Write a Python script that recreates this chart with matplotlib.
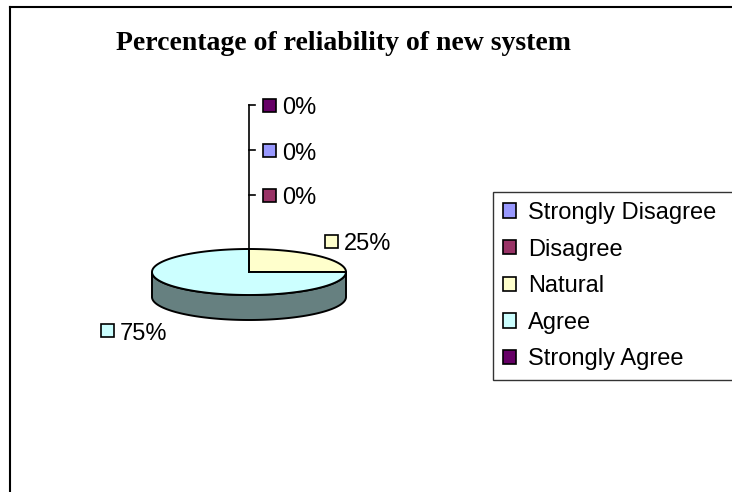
import matplotlib
matplotlib.use("Agg")
import matplotlib.pyplot as plt
import numpy as np
from matplotlib.patches import Polygon, Rectangle
from matplotlib.lines import Line2D

title = "Percentage of reliability of new system"
categories = ["Strongly Disagree", "Disagree", "Natural", "Agree", "Strongly Agree"]
percentages = [0, 0, 25, 75, 0]
colors = ["#9999FF", "#993366", "#FFFFCC", "#CCFFFF", "#660066"]
side_color = "#668080"

W, H = 732, 492
fig = plt.figure(figsize=(W / 100, H / 100), dpi=100)
ax = fig.add_axes([0, 0, 1, 1])
ax.set_xlim(0, W)
ax.set_ylim(H, 0)
ax.axis("off")

# pie geometry (pixel-like units, y down)
cx, cy = 249, 272
rx, ry = 97, 23
depth = 25


def rim(theta_deg, dy=0.0):
    t = np.radians(theta_deg)
    return np.column_stack([cx + rx * np.cos(t), cy - ry * np.sin(t) + dy])


# slices start at 12 o'clock and go clockwise
total = sum(percentages)
starts = 90 - 360 * np.concatenate([[0], np.cumsum(percentages)[:-1]]) / total
ends = starts - 360 * np.array(percentages) / total

# side wall first
for s, e, v, c in zip(starts, ends, percentages, colors):
    if v == 0:
        continue
    th = np.linspace(s, e, 400)
    th = th[np.sin(np.radians(th)) <= 1e-9]
    if len(th) < 2:
        continue
    top = rim(th)
    bot = rim(th, depth)
    ax.add_patch(Polygon(np.vstack([top, bot[::-1]]), closed=True,
                         facecolor=side_color, edgecolor="black", lw=1.4, zorder=2))

# top faces
for s, e, v, c in zip(starts, ends, percentages, colors):
    if v == 0:
        continue
    th = np.linspace(s, e, 400)
    pts = np.vstack([[cx, cy], rim(th)])
    ax.add_patch(Polygon(pts, closed=True, facecolor=c, edgecolor="black",
                         lw=1.4, zorder=3))

# data labels
label_font = dict(family="Liberation Sans", size=17)
label_pos = {
    "Strongly Disagree": (269, 150),
    "Disagree": (269, 195),
    "Natural": (331, 241),
    "Agree": (107, 330),
    "Strongly Agree": (269, 105),
}

# leader line for the zero-width slices
zero_y = [label_pos[c][1] for c, v in zip(categories, percentages) if v == 0]
ax.plot([cx, cx], [cy, min(zero_y)], color="black", lw=1.2, zorder=4)
for y in zero_y:
    ax.plot([cx, cx + 6], [y, y], color="black", lw=1.2, zorder=4)

for cat, v, c in zip(categories, percentages, colors):
    x, y = label_pos[cat]
    ax.add_patch(Rectangle((x - 6.5, y - 6.5), 13, 13, facecolor=c,
                           edgecolor="black", lw=1.2, zorder=5))
    ax.text(x + 13, y + 1, f"{v:.0f}%", ha="left", va="center_baseline",
            zorder=5, **label_font)

ax.text(343, 44, title, ha="center", va="center", family="Liberation Serif",
        fontweight="bold", size=20)

# chart area border (left and top edges)
fig.add_artist(Line2D([10 / W, 10 / W], [0, 1 - 7 / H], color="black", lw=1.5))
fig.add_artist(Line2D([10 / W, 1], [1 - 7 / H, 1 - 7 / H], color="black", lw=1.5))

handles = [Rectangle((0, 0), 1, 1, facecolor=c, edgecolor="black", lw=1.2)
           for c in colors]
leg = fig.legend(handles, categories, loc="upper left",
                 bbox_to_anchor=(493 / W, 1 - 192 / H, 250 / W, 0), mode="expand",
                 frameon=True, fancybox=False,
                 prop=dict(family="Liberation Sans", size=17),
                 handlelength=0.55, handleheight=0.55, handletextpad=0.5,
                 labelspacing=0.62, borderpad=0.42, borderaxespad=0)
leg.get_frame().set_edgecolor("black")
leg.get_frame().set_linewidth(1.0)

fig.savefig("out.png", dpi=100)
